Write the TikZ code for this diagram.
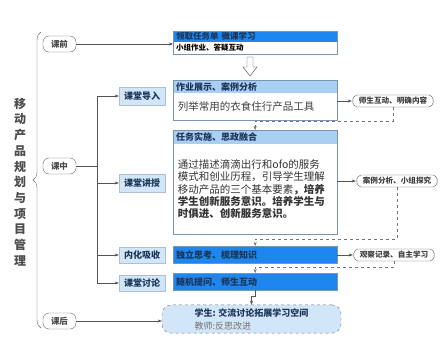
\documentclass[tikz,border=0pt]{standalone}
\usepackage{fontspec}
\setmainfont{Noto Sans CJK SC}
\usetikzlibrary{arrows.meta,positioning,decorations.pathreplacing,shapes.symbols}

\definecolor{hdrblue}{HTML}{1E86F0}
\definecolor{lightblue}{HTML}{A9CFF3}
\definecolor{paleblue}{HTML}{D2E6F9}
\definecolor{navy}{HTML}{1B3557}
\definecolor{framegray}{HTML}{7A95B2}
\definecolor{linegray}{HTML}{555555}

\tikzset{
  stage/.style={draw=black!60, rounded corners=6pt, fill=white, minimum width=33pt,
    minimum height=16pt, inner sep=0pt, font=\fontsize{8.5}{9}\selectfont\bfseries, text=black!70},
  part/.style={draw=framegray!60, fill=paleblue, minimum width=46pt, minimum height=18pt,
    inner sep=0pt, font=\fontsize{9}{10}\selectfont\bfseries, text=navy},
  head/.style={anchor=north west, text width=158pt, inner xsep=3pt, inner ysep=0pt, align=left,
    font=\fontsize{9}{10}\selectfont\bfseries, text=navy},
  body/.style={anchor=north, text width=158pt, inner xsep=3pt, inner ysep=0pt, align=left, fill=white},
  note/.style={signal, signal to=east and west, signal pointer angle=130, draw=black!65,
    rounded corners=2pt, fill=white, minimum height=12pt, inner xsep=4pt, inner ysep=1pt,
    font=\fontsize{7.6}{8}\selectfont\bfseries, text=black!75},
  link/.style={draw=linegray, -{Stealth[length=4pt,width=3pt]}},
  back/.style={draw=black!55, dashed, -{Stealth[length=4pt,width=3pt]}},
}

\begin{document}
\begin{tikzpicture}[x=1pt,y=-1pt]
\useasboundingbox[fill=white] (0,0) rectangle (448,348);

% Title and brace
\node (title) at (20,182) [font=\fontsize{12}{15.7}\selectfont\bfseries, text=black!70, align=center]
  {移\\动\\产\\品\\规\\划\\与\\项\\目\\管\\理};
\draw[decorate, decoration={brace,amplitude=8pt}, black!60] (41,328) -- (41,32);

% Stages
\node (pre) [stage] at (59.5,44) {课前};
\node (mid) [stage] at (59.5,166) {课中};
\node (post) [stage] at (59.5,321) {课后};

% In-class parts
\coordinate (trunk) at (97,166);
\node (intro) [part] at (142,96) {课堂导入};
\node (lecture) [part] at (142,183) {课堂讲授};
\node (absorb) [part, minimum height=16pt] at (142,255) {内化吸收};
\node (discuss) [part, minimum height=16pt] at (142,283) {课堂讨论};

% Before class box
\node (taskhead) [head, fill=hdrblue, minimum height=11pt, font=\fontsize{8.5}{9}\selectfont\bfseries] at (173,31) {领取任务单 微课学习};
\node (taskbody) [body, below=0pt of taskhead, minimum height=11pt, font=\fontsize{7.5}{8}\selectfont\bfseries, text=black] {小组作业、答疑互动};
\draw[framegray] (taskhead.north west) rectangle (taskbody.south east);

% Hollow arrow
\coordinate (flow) at (250,57);
\draw[black!70, fill=white] (flow) ++(-3,0) -- ++(6,0) -- ++(0,10) -- ++(4,0) -- ++(-7,9) -- ++(-7,-9) -- ++(4,0) -- cycle;

% Intro box
\node (showhead) [head, fill=lightblue, minimum height=13pt] at (173,80) {作业展示、案例分析};
\node (showbody) [body, below=0pt of showhead, minimum height=26pt, font=\fontsize{10.5}{12}\selectfont, text=black!75] {\,列举常用的衣食住行产品工具};
\draw[framegray] (showhead.north west) rectangle (showbody.south east);

% Lecture box
\node (implhead) [head, fill=lightblue, minimum height=14pt] at (173,130) {任务实施、思政融合};
\node (implbody) [body, below=0pt of implhead, minimum height=89pt, font=\fontsize{10.5}{12.4}\selectfont, text=black!80]
  {\,通过描述滴滴出行和ofo的服务\\
   \,模式和创业历程，引导学生理解\\
   \,移动产品的三个基本要素\textbf{，培养}\\
   \,\textbf{学生创新服务意识。培养学生与}\\
   \,\textbf{时俱进、创新服务意识。}};
\draw[framegray] (implhead.north west) rectangle (implbody.south east);

% Absorb and discuss boxes
\node (think) [head, fill=hdrblue, draw=framegray, minimum height=17pt] at (173,246) {独立思考、梳理知识};
\node (ask) [head, fill=hdrblue, draw=framegray, minimum height=17pt] at (173,273) {随机提问、师生互动};

% After class box
\node (after) [draw=black!55, dashed, fill=paleblue, rounded corners=9pt, minimum width=179pt, minimum height=28pt,
  align=left, font=\fontsize{9}{13}\selectfont] at (251.5,319)
  {\textcolor{navy}{\textbf{学生: 交流讨论拓展学习空间}}\\\textcolor{black!55}{教师:反思改进}};

% Notes
\node (note1) [note] at (393,101) {师生互动、明确内容};
\node (note2) [note] at (397,181) {案例分析、小组探究};
\node (note3) [note] at (394,255) {观察记录、自主学习};

% Connectors
\draw[link] (pre) -- (pre -| taskbody.west);
\draw[linegray] (mid) -- (trunk);
\draw[linegray] (intro.west -| trunk) -- (discuss.west -| trunk);
\foreach \p in {intro,lecture,absorb,discuss}
  \draw[link] (\p.west -| trunk) -- (\p.west);
\draw[link] (post) -- (post -| after.west);

\draw[link] (showbody.east |- note1) -- (note1.west);
\draw[link] (implbody.east |- note2) -- (note2.west);
\draw[link] (think.east |- note3) -- (note3.west);

\draw[back] (note1.south) |- ([yshift=9pt]implhead.north) -- (implhead.north);
\draw[back] (note2.south) |- ([yshift=7pt]think.north) -- (think.north);
\draw[back] (note3.south) |- ([yshift=6pt]ask.north) -- (ask.north);
\draw[link] (ask.south) -- ++(0,6) -| (after.north);

\end{tikzpicture}
\end{document}
